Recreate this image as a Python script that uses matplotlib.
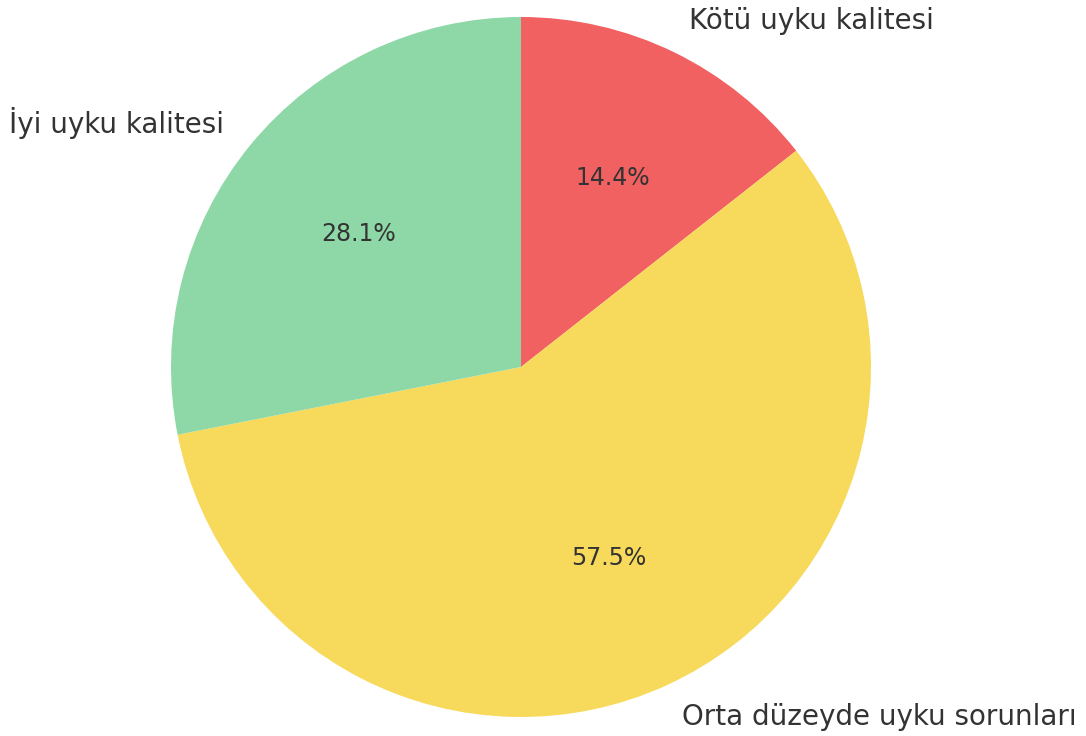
import matplotlib
matplotlib.use("Agg")
import matplotlib.pyplot as plt

labels = ["Kötü uyku kalitesi", "Orta düzeyde uyku sorunları", "İyi uyku kalitesi"]
values = [14.4, 57.5, 28.1]
colors = ["#F26161", "#F7DA5C", "#8ED8A7"]

W, H = 1086, 736
fig = plt.figure(figsize=(W / 100, H / 100), dpi=100)
cx, cy, r = 521, 736 - 367, 350
ax = fig.add_axes([(cx - r) / W, (cy - r) / H, 2 * r / W, 2 * r / H])

wedges, texts, autotexts = ax.pie(
    values, labels=labels, colors=colors, autopct="%1.1f%%",
    startangle=90, counterclock=False, labeldistance=1.1, pctdistance=0.6,
    textprops=dict(color="#333333", fontsize=20),
)
for t in autotexts:
    t.set_fontsize(17)
ax.set_xlim(-1, 1)
ax.set_ylim(-1, 1)
ax.set_aspect("auto")
ax.axis("off")

fig.savefig("out.png", dpi=100)
